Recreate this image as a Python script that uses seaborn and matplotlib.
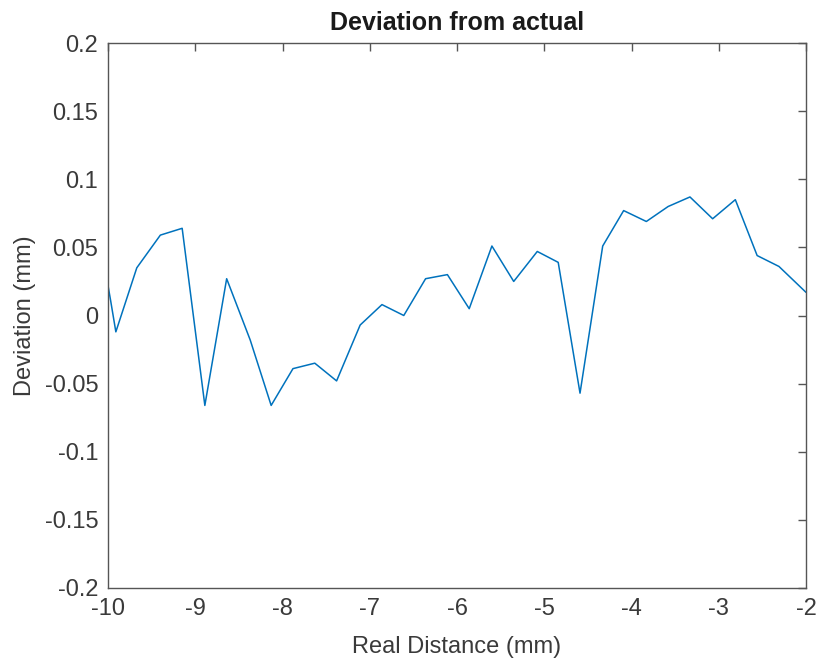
import matplotlib
matplotlib.use("Agg")
import matplotlib.pyplot as plt
import seaborn as sns
import pandas as pd

real_distance = [-10.0, -9.97, -9.91, -9.67, -9.40, -9.15, -8.89, -8.64, -8.37, -8.13,
                 -7.88, -7.63, -7.38, -7.11, -6.86, -6.61, -6.36, -6.11, -5.86,
                 -5.60, -5.35, -5.08, -4.84, -4.59, -4.33, -4.09, -3.83, -3.58,
                 -3.33, -3.07, -2.81, -2.56, -2.31, -2.0]
deviation = [0.022, 0.011, -0.012, 0.035, 0.059, 0.064, -0.066, 0.027, -0.018, -0.066,
             -0.039, -0.035, -0.048, -0.007, 0.008, 0.000, 0.027, 0.030, 0.005,
             0.051, 0.025, 0.047, 0.039, -0.057, 0.051, 0.077, 0.069, 0.080,
             0.087, 0.071, 0.085, 0.044, 0.036, 0.017]

x_ticks = [-10, -9, -8, -7, -6, -5, -4, -3, -2]
y_ticks = [-0.2, -0.15, -0.1, -0.05, 0, 0.05, 0.1, 0.15, 0.2]
y_tick_labels = ["-0.2", "-0.15", "-0.1", "-0.05", "0", "0.05", "0.1", "0.15", "0.2"]

df = pd.DataFrame({"Real Distance (mm)": real_distance, "Deviation (mm)": deviation})

sns.set_theme(style="white")
plt.rcParams['font.family'] = ['Liberation Sans', 'DejaVu Sans']

fig = plt.figure(figsize=(8.18, 6.67), dpi=100)
ax = fig.add_axes([108/818, 79/667, (806-108)/818, (588-43)/667])

sns.lineplot(data=df, x="Real Distance (mm)", y="Deviation (mm)", ax=ax,
             color="#0072BD", linewidth=1.1, sort=False, estimator=None)

ax.set_xlim(-10, -2)
ax.set_ylim(-0.2, 0.2)
ax.set_xticks(x_ticks)
ax.set_xticklabels([str(t) for t in x_ticks])
ax.set_yticks(y_ticks)
ax.set_yticklabels(y_tick_labels)

grey = "#3a3a3a"
for s in ax.spines.values():
    s.set_color("#555555")
    s.set_linewidth(1.0)
    s.set_visible(True)
ax.tick_params(direction="in", length=6, width=1, colors="#555555",
               top=True, right=True, labelsize=17, labelcolor=grey, pad=7)
ax.set_xlabel("Real Distance (mm)", fontsize=17, color=grey, labelpad=12)
ax.set_ylabel("Deviation (mm)", fontsize=17, color=grey, labelpad=6)
ax.set_title("Deviation from actual", fontsize=18, fontweight="bold",
             color="#1a1a1a", pad=9)

fig.savefig("out.png", dpi=100, facecolor="white")
